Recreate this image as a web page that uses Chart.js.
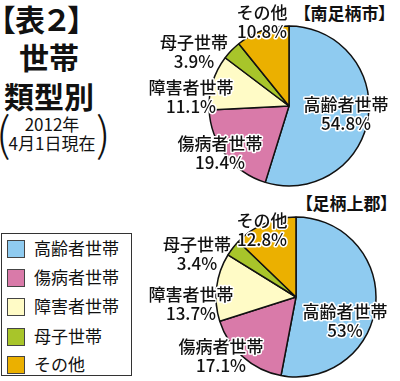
<!DOCTYPE html>
<html>
<head>
<meta charset="utf-8">
<script src="https://cdn.jsdelivr.net/npm/chart.js@4"></script>
<style>
  body { margin: 0; background: #fff; }
  #wrap { position: relative; width: 400px; height: 381px; overflow: hidden;
          font-family: "Noto Sans CJK JP", "Noto Sans", sans-serif; color: #111; }
  canvas { position: absolute; left: 0; top: 0; }
  .abs { position: absolute; white-space: nowrap; font-feature-settings: "palt"; }
  .big { font-size: 30px; font-weight: 700; line-height: 1; }
  .small { font-family: "Noto Sans CJK JP", "Noto Sans", sans-serif; font-size: 17px;
           line-height: 1; width: 104px; text-align: center; left: 0; }
  .paren { font-size: 46px; line-height: 1; font-weight: 300; }
  .region { font-size: 17px; font-weight: 700; line-height: 1; }
  #legend { position: absolute; left: 1px; top: 233px; width: 129px; height: 141px;
            border: 1.5px solid #333; }
  .item { position: absolute; left: 5px; height: 20px; font-size: 17px; line-height: 20px; }
  .sw { position: absolute; left: 0; top: 1px; width: 16px; height: 16px; border: 1px solid #444; }
  .item span { position: absolute; left: 27px; top: -1px; white-space: nowrap; }
</style>
</head>
<body>
<div id="wrap">
  <div class="abs big" style="left:0px;top:3px;">【表２】</div>
  <div class="abs big" style="left:19px;top:41px;">世帯</div>
  <div class="abs big" style="left:4px;top:80px;">類型別</div>
  <div class="abs paren" style="left:-4px;top:108px;">(</div>
  <div class="abs paren" style="left:96px;top:108px;">)</div>
  <div class="abs small" style="top:115px;">2012年</div>
  <div class="abs small" style="top:134px;">4月1日現在</div>
  <div class="abs region" style="left:302px;top:4px;">【南足柄市】</div>
  <div class="abs region" style="left:304px;top:194px;">【足柄上郡】</div>
  <div id="legend"></div>
  <canvas id="pie1" width="400" height="381"></canvas>
  <canvas id="pie2" width="400" height="381"></canvas>
</div>
<script>
// categories and values (percent)
const categories = ["高齢者世帯", "傷病者世帯", "障害者世帯", "母子世帯", "その他"];
const minamiValues = [54.8, 19.4, 11.1, 3.9, 10.8];
const kamiValues = [53, 17.1, 13.7, 3.4, 12.8];

const colors = ["#8fcbf0", "#d97aa9", "#fffbc6", "#a8c52a", "#ebb000"];

// label block offsets from the pie centre
const minamiLabelPos = [[57, 9], [-69, 48], [-98, -8], [-95, -53], [-27, -83]];
const kamiLabelPos = [[49, 25], [-75, 60], [-105, 8], [-99, -42], [-34, -66]];

// LEGEND
const legend = document.getElementById("legend");
const rowTops = [5, 34, 63, 93, 121];
categories.forEach((c, i) => {
    const d = document.createElement("div");
    d.className = "item";
    d.style.top = rowTops[i] + "px";
    d.innerHTML = `<div class="sw" style="background:${colors[i]}"></div><span>${c}</span>`;
    legend.appendChild(d);
});

const pieLabels = {
    id: "pieLabels",
    afterDraw(chart, args, opts) {
        const ctx = chart.ctx;
        const arc = chart.getDatasetMeta(0).data[0];
        const cx = arc.x, cy = arc.y;
        const vals = chart.data.datasets[0].data;
        ctx.save();
        ctx.font = '500 17px "Noto Sans CJK JP"';
        ctx.textAlign = "center";
        ctx.textBaseline = "middle";
        ctx.lineJoin = "round";
        chart.data.labels.forEach((lab, i) => {
            const x = cx + opts.pos[i][0];
            const y = cy + opts.pos[i][1];
            const lines = [lab, vals[i] + "%"];
            lines.forEach((t, k) => {
                const ty = y + (k === 0 ? -10 : 9);
                ctx.strokeStyle = "#fff";
                ctx.lineWidth = 3;
                ctx.strokeText(t, x, ty);
                ctx.fillStyle = "#111";
                ctx.fillText(t, x, ty);
            });
        });
        ctx.restore();
    }
};

function makePie(id, values, padding, pos) {
    return new Chart(document.getElementById(id), {
        type: "pie",
        data: {
            labels: categories,
            datasets: [{
                data: values,
                backgroundColor: colors,
                borderColor: "#111",
                borderWidth: 1.5
            }]
        },
        options: {
            responsive: false,
            animation: false,
            events: [],
            radius: 80,
            layout: { padding: padding },
            plugins: {
                legend: { display: false },
                tooltip: { enabled: false },
                pieLabels: { pos: pos }
            }
        },
        plugins: [pieLabels]
    });
}

makePie("pie1", minamiValues, { left: 178, right: 0, top: 0, bottom: 169 }, minamiLabelPos);
makePie("pie2", kamiValues, { left: 192, right: 0, top: 213, bottom: 0 }, kamiLabelPos);
</script>
</body>
</html>
